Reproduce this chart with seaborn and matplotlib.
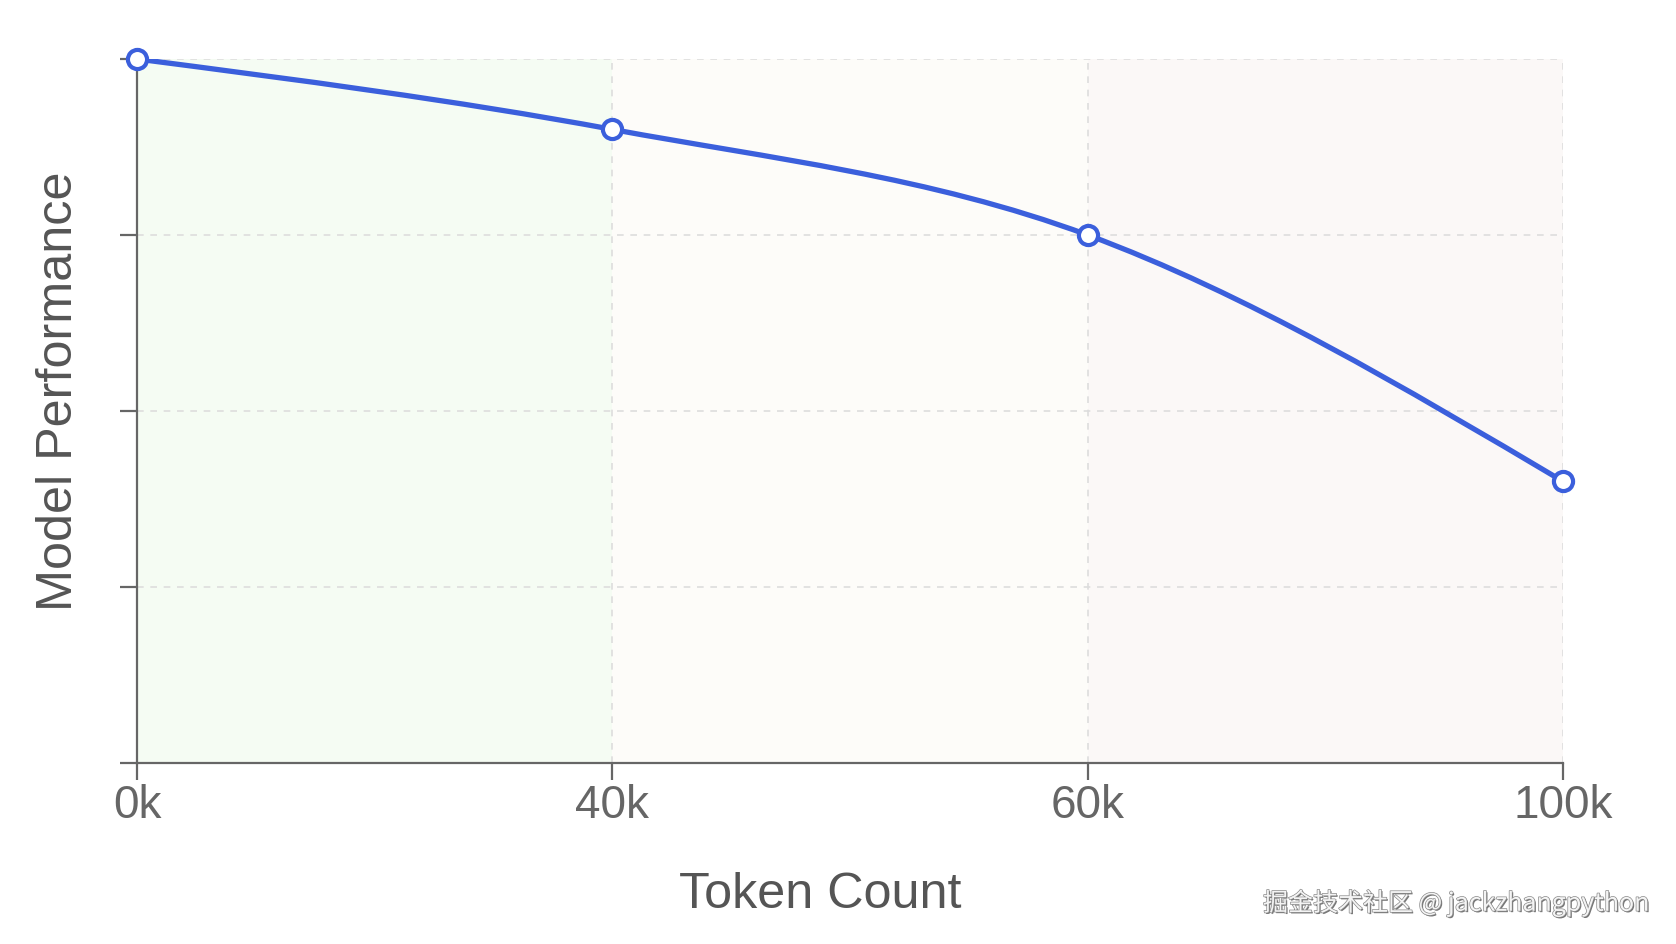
import numpy as np
import pandas as pd
import matplotlib
matplotlib.use("Agg")
import matplotlib.pyplot as plt
import seaborn as sns
from matplotlib.path import Path
from matplotlib.patches import PathPatch
import matplotlib.patheffects as pe

# ---- data ----
categories = ["0k", "40k", "60k", "100k"]
performance = [100, 90, 75, 40]
y_ticks = [0, 25, 50, 75, 100]
band_edges = [0, 1, 2, 3]  # category index boundaries of the shaded zones
band_colors = ["#f5fcf3", "#fdfcf9", "#fbf8f7"]

sns.set_theme(style="white")
plt.rcParams['font.family'] = ['Liberation Sans', 'DejaVu Sans']

fig = plt.figure(figsize=(16.76, 9.44), dpi=100)
ax = fig.add_axes([137/1676, 1 - 763/944, (1563-137)/1676, (763-59)/944])

df = pd.DataFrame({"x": np.arange(len(categories)), "perf": performance})

# background bands
for i, c in enumerate(band_colors):
    ax.axvspan(band_edges[i], band_edges[i+1], color=c, zorder=0, lw=0)

# grid
for yv in y_ticks[1:]:
    ax.axhline(yv, color="#dddddd", lw=1.2, ls=(0, (4, 4)), zorder=1)
for xv in df["x"][1:]:
    ax.axvline(xv, color="#dddddd", lw=1.2, ls=(0, (4, 4)), zorder=1)

# monotone cubic curve (d3 curveMonotoneX style) built from data points
x = df["x"].to_numpy(float)
y = df["perf"].to_numpy(float)
h = np.diff(x)
d = np.diff(y) / h
m = np.zeros_like(y)
for i in range(1, len(y) - 1):
    s0, s1 = d[i-1], d[i]
    p = (s0 * h[i] + s1 * h[i-1]) / (h[i-1] + h[i])
    m[i] = (np.sign(s0) + np.sign(s1)) * min(abs(s0), abs(s1), 0.5 * abs(p))
m[0] = (3 * d[0] - m[1]) / 2
m[-1] = (3 * d[-1] - m[-2]) / 2
verts = [(x[0], y[0])]
codes = [Path.MOVETO]
for i in range(len(x) - 1):
    verts += [(x[i] + h[i]/3, y[i] + m[i]*h[i]/3),
              (x[i+1] - h[i]/3, y[i+1] - m[i+1]*h[i]/3),
              (x[i+1], y[i+1])]
    codes += [Path.CURVE4] * 3
ax.add_patch(PathPatch(Path(verts, codes), fill=False, edgecolor="#3b5fdc",
                       lw=3.8, zorder=3, capstyle="round", joinstyle="round"))

sns.scatterplot(data=df, x="x", y="perf", ax=ax, s=190, color="white",
                edgecolor="#3b5fdc", linewidth=3.0, zorder=4, clip_on=False)

ax.set_xlim(0, 3)
ax.set_ylim(0, 100)
ax.set_xticks(df["x"])
ax.set_xticklabels(categories)
ax.set_yticks(y_ticks)
ax.set_yticklabels([])
ax.tick_params(axis="x", length=12, width=1.6, color="#666666", labelsize=33,
               labelcolor="#666666", pad=3, direction="out", bottom=True)
ax.tick_params(axis="y", length=12, width=1.6, color="#666666", direction="out", left=True)

for s in ["top", "right"]:
    ax.spines[s].set_visible(False)
for s in ["left", "bottom"]:
    ax.spines[s].set_color("#666666")
    ax.spines[s].set_linewidth(1.6)

ax.set_xlabel("Token Count", fontsize=36.3, color="#555555")
ax.xaxis.set_label_coords((820 - 137) / 1426, (763 - 895) / 704)
ax.xaxis.label.set_va("center")
ax.xaxis.label.set_ha("center")

ax.set_ylabel("Model Performance", fontsize=36.3, color="#555555")
ax.yaxis.set_label_coords((59 - 137) / 1426, (763 - 391) / 704)
ax.yaxis.label.set_va("center")
ax.yaxis.label.set_ha("center")

fig.text(1649/1676, 1 - 903/944, "掘金技术社区 @ jackzhangpython", ha="right", va="center",
         fontsize=18, color="#f4f4f4",
         family=["Noto Sans CJK SC", "DejaVu Sans"],
         path_effects=[pe.withSimplePatchShadow(offset=(1, -1), shadow_rgbFace="#666666", alpha=0.9),
                       pe.withStroke(linewidth=1.0, foreground="#8a8a8a")])

fig.savefig("out.png", dpi=100)
